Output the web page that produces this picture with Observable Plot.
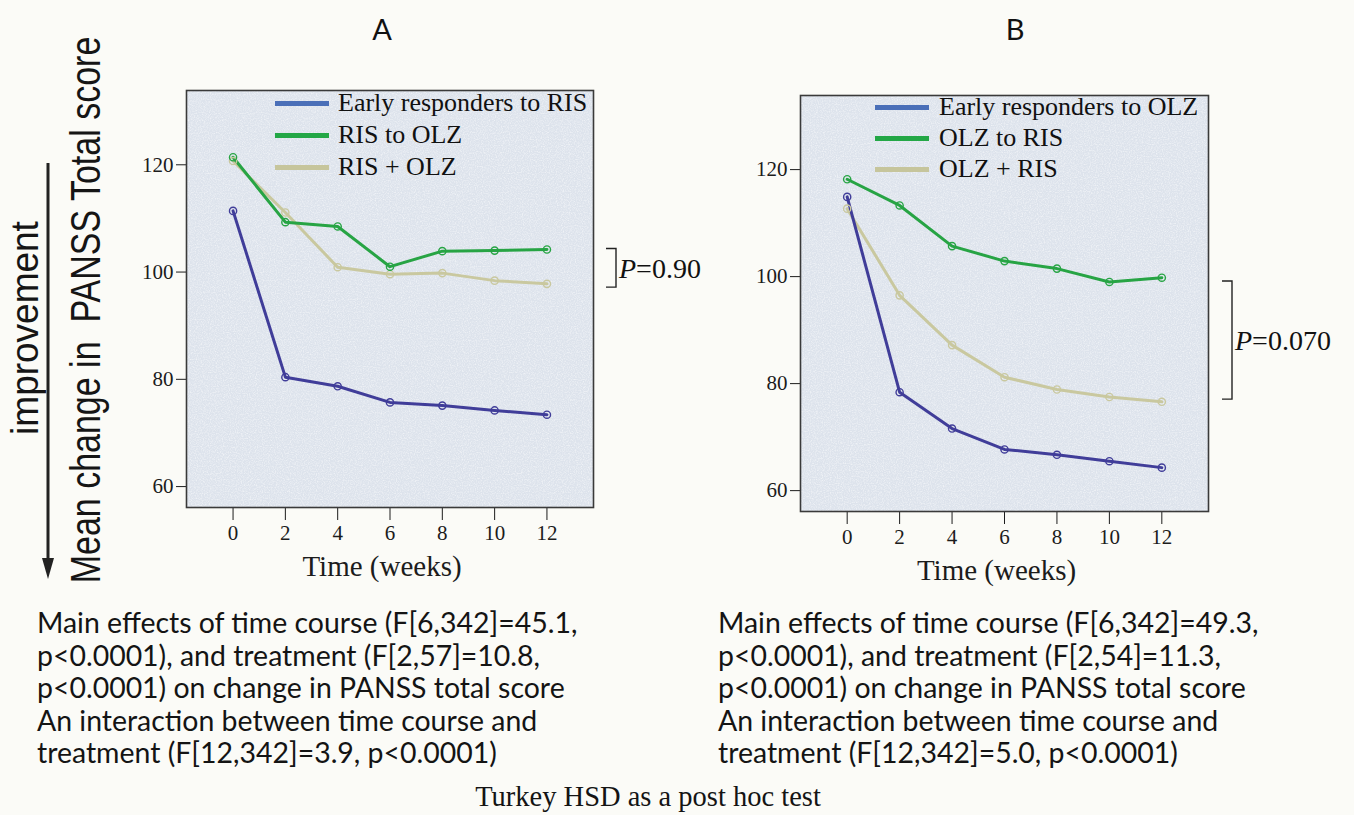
<!DOCTYPE html>
<html><head><meta charset="utf-8">
<script src="https://cdn.jsdelivr.net/npm/d3@7"></script>
<script src="https://cdn.jsdelivr.net/npm/@observablehq/plot@0.6"></script>
<style>
html,body{margin:0;padding:0;background:#fbfbf7;}
#root{position:relative;width:1354px;height:815px;overflow:hidden;background:#fbfbf7;}
.abs{position:absolute;}
.ptitle{font-family:Lato,"Open Sans",sans-serif;font-size:29px;color:#111;transform:translate(-50%,-50%);line-height:1;}
.leg{font-family:"Liberation Serif",serif;font-size:26px;color:#111;line-height:1;transform:translateY(-50%);white-space:nowrap;}
.stats{font-family:Lato,sans-serif;color:#141414;line-height:32.5px;white-space:pre;}
.note{font-family:"Liberation Serif",serif;font-size:28.5px;color:#141414;transform:translate(-50%,-50%);white-space:nowrap;line-height:1;}
</style></head><body><div id="root"></div>
<script>
// ---------------- data ----------------
const weeks = [0, 2, 4, 6, 8, 10, 12];
const yTicks = [60, 80, 100, 120];

const seriesA = ["Early responders to RIS", "RIS to OLZ", "RIS + OLZ"];
const earlyRIS   = [111.4, 80.4, 78.7, 75.7, 75.1, 74.2, 73.4];
const risToOlz   = [121.4, 109.3, 108.5, 101.0, 103.9, 104.0, 104.2];
const risPlusOlz = [120.7, 111.1, 100.9, 99.6, 99.8, 98.4, 97.8];

const seriesB = ["Early responders to OLZ", "OLZ to RIS", "OLZ + RIS"];
const earlyOLZ   = [114.9, 78.4, 71.6, 67.7, 66.7, 65.5, 64.3];
const olzToRis   = [118.2, 113.3, 105.7, 102.9, 101.5, 99.0, 99.8];
const olzPlusRis = [112.7, 96.5, 87.2, 81.2, 78.9, 77.5, 76.6];

const bracketA = {top: 104.3, bottom: 97.1, stat: "P", value: "=0.90"};
const bracketB = {top: 99.1, bottom: 77.0, stat: "P", value: "=0.070"};

const statsA = [
  "Main effects of time course (F[6,342]=45.1,",
  "p<0.0001), and treatment (F[2,57]=10.8,",
  "p<0.0001) on change in PANSS total score",
  "An interaction between time course and",
  "treatment (F[12,342]=3.9, p<0.0001)"
];
const statsB = [
  "Main effects of time course (F[6,342]=49.3,",
  "p<0.0001), and treatment (F[2,54]=11.3,",
  "p<0.0001) on change in PANSS total score",
  "An interaction between time course and",
  "treatment (F[12,342]=5.0, p<0.0001)"
];
const yLabel = "Mean change in  PANSS Total score";
const yNote = "improvement";
const xLabel = "Time (weeks)";
const footNote = "Turkey HSD as a post hoc test";

// ---------------- style ----------------
const lineColors = ["#403d99", "#27a444", "#c9c89f"];
const swatchColors = ["#4a6fb8", "#23a746", "#c6c59c"];
const plotBg = "#dde3ec";

const root = document.getElementById("root");

function makeTable(names, values) {
  const rows = [];
  // draw order: last series first so the first one ends on top
  for (let i = names.length - 1; i >= 0; i--) {
    values[i].forEach((v, j) => rows.push({series: names[i], week: weeks[j], value: v}));
  }
  return rows;
}

function panel(cfg) {
  const rows = makeTable(cfg.names, cfg.values);
  const chart = Plot.plot({
    width: cfg.width, height: cfg.height,
    marginLeft: cfg.ml, marginTop: cfg.mt, marginRight: cfg.mr, marginBottom: cfg.mb,
    x: {domain: [-1.78, 13.78], ticks: weeks, tickSize: 13, tickPadding: 5, label: null, tickFormat: d => String(d)},
    y: {domain: [56.1, 133.85], ticks: yTicks, tickSize: 10, tickPadding: 3, label: null, tickFormat: d => String(d)},
    color: {domain: cfg.names, range: lineColors},
    style: {fontFamily: "'Liberation Serif', serif", fontSize: "21px", color: "#1c1c1c", background: "transparent", overflow: "visible"},
    marks: [
      Plot.frame({fill: plotBg, stroke: "none"}),
      Plot.line(rows, {x: "week", y: "value", z: "series", stroke: "series", strokeWidth: 3}),
      Plot.dot(rows, {x: "week", y: "value", stroke: "series", r: 3.6, strokeWidth: 1.4, fill: "none"}),
      Plot.frame({stroke: "#3a3a3a", strokeWidth: 1.6}),
      Plot.text([xLabel], {frameAnchor: "bottom", text: d => d, dy: 68, dx: -8, fontSize: 29, fill: "#1c1c1c"})
    ]
  });
  chart.style.position = "absolute";
  chart.style.left = cfg.left + "px";
  chart.style.top = cfg.top + "px";

  const svg = d3.select(chart);
  const xs = chart.scale("x"), ys = chart.scale("y");
  const right = xs.range[1];
  // subtle paper texture over the plot area
  const fid = "noise" + cfg.id;
  const defs = svg.insert("defs", ":first-child");
  const f = defs.append("filter").attr("id", fid).attr("x", 0).attr("y", 0).attr("width", "100%").attr("height", "100%");
  f.append("feTurbulence").attr("type", "fractalNoise").attr("baseFrequency", 0.85).attr("numOctaves", 2).attr("seed", cfg.id === "A" ? 3 : 7);
  f.append("feColorMatrix").attr("type", "matrix").attr("values", "0 0 0 0 1  0 0 0 0 1  0 0 0 0 1  0 0 0 2.2 -0.9");
  const firstFrame = chart.querySelector('g[aria-label="frame"]') || chart.querySelector("rect");
  const nx = xs.range[0], ny = ys.range[1], nw = xs.range[1] - xs.range[0], nh = ys.range[0] - ys.range[1];
  const noise = document.createElementNS("http://www.w3.org/2000/svg", "rect");
  noise.setAttribute("x", nx); noise.setAttribute("y", ny);
  noise.setAttribute("width", nw); noise.setAttribute("height", nh);
  noise.setAttribute("filter", `url(#${fid})`);
  noise.setAttribute("opacity", 0.55);
  firstFrame.parentNode.insertBefore(noise, firstFrame.nextSibling);

  // significance bracket, positioned with the y scale
  const br = cfg.bracket;
  const bx = right + cfg.bracketDx;
  const y1 = ys.apply(br.top), y2 = ys.apply(br.bottom);
  svg.append("path")
    .attr("d", `M${bx - 10},${y1}H${bx}V${y2}H${bx - 10}`)
    .attr("fill", "none").attr("stroke", "#222").attr("stroke-width", 1.4);
  const t = svg.append("text")
    .attr("x", bx + 3).attr("y", (y1 + y2) / 2).attr("dy", "0.35em")
    .attr("text-anchor", "start")
    .attr("font-family", "'Liberation Serif', serif").attr("font-size", 28).attr("fill", "#111");
  t.append("tspan").attr("font-style", "italic").text(br.stat);
  t.append("tspan").text(br.value);

  root.appendChild(chart);

  // legend (HTML overlay)
  const frameLeft = cfg.left + xs.range[0], frameTop = cfg.top + ys.range[1];
  cfg.names.forEach((name, i) => {
    const cy = frameTop + cfg.legRows[i];
    const sw = document.createElement("div");
    sw.className = "abs";
    Object.assign(sw.style, {left: (frameLeft + cfg.swLeft) + "px", top: (cy - 2) + "px", width: "54px", height: "4.5px", background: swatchColors[i]});
    root.appendChild(sw);
    const tx = document.createElement("div");
    tx.className = "abs leg";
    tx.style.left = (frameLeft + cfg.txLeft) + "px";
    tx.style.top = cy + "px";
    tx.textContent = name;
    root.appendChild(tx);
  });

  const ttl = document.createElement("div");
  ttl.className = "abs ptitle";
  ttl.style.left = cfg.titleX + "px"; ttl.style.top = "28px";
  ttl.textContent = cfg.id;
  root.appendChild(ttl);
}

panel({id: "A", names: seriesA, values: [earlyRIS, risToOlz, risPlusOlz],
  left: 100, top: 70, width: 520, height: 530, ml: 86, mt: 20, mr: 27, mb: 93,
  bracket: bracketA, bracketDx: 23, legRows: [13, 45, 77], swLeft: 89, txLeft: 152, titleX: 382});
panel({id: "B", names: seriesB, values: [earlyOLZ, olzToRis, olzPlusRis],
  left: 714, top: 75, width: 520, height: 530, ml: 86, mt: 20, mr: 26, mb: 94,
  bracket: bracketB, bracketDx: 24, legRows: [12, 43, 74], swLeft: 75, txLeft: 139, titleX: 1015});

// ---------------- y-axis annotation ----------------
const ann = d3.select(root).append("svg").attr("class", "abs")
  .attr("width", 130).attr("height", 815).style("left", "0px").style("top", "0px");
ann.append("line").attr("x1", 48).attr("x2", 48).attr("y1", 163).attr("y2", 562)
  .attr("stroke", "#222").attr("stroke-width", 3);
ann.append("path").attr("d", "M42,558L54,558L48,579Z").attr("fill", "#222");
ann.append("text").text(yLabel)
  .attr("transform", "translate(100,310) rotate(-90) scale(1,1.25)")
  .attr("text-anchor", "middle").attr("font-family", "'Liberation Sans', Arial, sans-serif")
  .attr("font-size", 34).attr("fill", "#151515").style("white-space", "pre");
ann.append("text").text(yNote)
  .attr("transform", "translate(38,328) rotate(-90) scale(1,1.05)")
  .attr("text-anchor", "middle").attr("font-family", "'Liberation Sans', Arial, sans-serif")
  .attr("font-size", 37).attr("fill", "#151515");

// ---------------- statistics text ----------------
const ctx = document.createElement("canvas").getContext("2d");
ctx.font = "24px Lato";
const w0 = ctx.measureText(statsA[0]).width;
const statSize = 24 * 541 / w0;
[[statsA, 37], [statsB, 718]].forEach(([lines, x]) => {
  const d = document.createElement("div");
  d.className = "abs stats";
  d.style.left = x + "px"; d.style.top = "606px";
  d.style.fontSize = statSize.toFixed(2) + "px";
  d.textContent = lines.join("\n");
  root.appendChild(d);
});
const fn = document.createElement("div");
fn.className = "abs note";
fn.style.left = "648px"; fn.style.top = "797px";
fn.textContent = footNote;
root.appendChild(fn);
</script></body></html>
